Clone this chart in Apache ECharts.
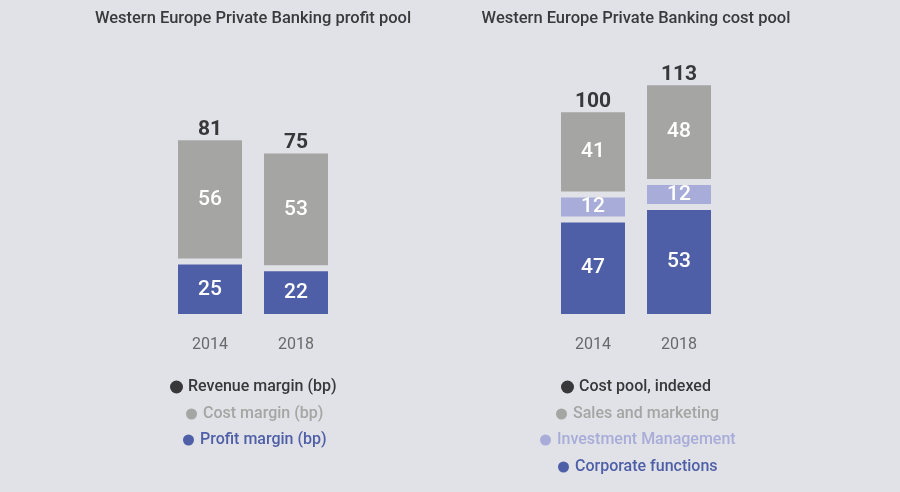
<!DOCTYPE html>
<html lang="en">

<head>
    <meta charset="UTF-8" />
    <title>Private Banking profit and cost pool</title>
    <script src="https://cdn.jsdelivr.net/npm/echarts@6/dist/echarts.min.js"></script>
    <style>
        html, body { margin: 0; padding: 0; background: #e1e2e7; }
        #main { width: 900px; height: 492px; }
    </style>
</head>

<body>
    <div id="main"></div>

    <script type="text/javascript">
        // Data
        const years = ["2014", "2018"];

        // profit pool (bp)
        const revenueMargin = [81, 75];
        const costMargin = [56, 53];
        const profitMargin = [25, 22];

        // cost pool (indexed, 2014 = 100)
        const costPoolIndexed = [100, 113];
        const salesMarketing = [41, 48];
        const investmentMgmt = [12, 12];
        const corporateFunctions = [47, 53];

        const bg = "#e1e2e7";
        const dark = "#38383a";
        const gray = "#a5a5a4";
        const blue = "#4f5fa7";
        const lilac = "#a8acd8";
        const font = "Roboto";

        // measure legend text so each row can be centred on a given x
        const ctx = document.createElement("canvas").getContext("2d");
        ctx.font = "500 16px " + font;
        function legendAt(name, color, cx, cy) {
            let w = 13 + 5 + ctx.measureText(name).width;
            return {
                data: [{ name: name, textStyle: { color: color } }],
                left: Math.round(cx - w / 2),
                top: cy - 7,
                padding: 0,
                icon: "circle",
                itemWidth: 13,
                itemHeight: 13,
                selectedMode: false,
                textStyle: { fontFamily: font, fontSize: 16, fontWeight: 500, color: color },
            };
        }

        function segment(name, data, color, gridIdx) {
            return {
                name: name,
                type: "bar",
                stack: "s" + gridIdx,
                xAxisIndex: gridIdx,
                yAxisIndex: gridIdx,
                barWidth: 70,
                data: data,
                // background-coloured border gives the gaps between segments
                itemStyle: { color: color, borderColor: bg, borderWidth: 3 },
                label: {
                    show: true,
                    position: "inside",
                    color: "#ffffff",
                    fontFamily: font,
                    fontSize: 21,
                    fontWeight: 500,
                },
                emphasis: { disabled: true },
            };
        }

        function total(name, data, gridIdx) {
            return {
                name: name,
                type: "scatter",
                xAxisIndex: gridIdx,
                yAxisIndex: gridIdx,
                symbolSize: 0,
                data: data,
                itemStyle: { color: dark, opacity: 1 },
                label: {
                    show: true,
                    position: "top",
                    distance: -3,
                    color: dark,
                    fontFamily: font,
                    fontSize: 21,
                    fontWeight: "bold",
                },
                emphasis: { disabled: true },
                z: 5,
            };
        }

        const xAxisBase = {
            type: "category",
            data: years,
            axisLine: { show: false },
            axisTick: { show: false },
            axisLabel: { color: "#69696b", fontFamily: font, fontSize: 16, margin: 20 },
        };
        const yAxisBase = { type: "value", min: 0, show: false, splitLine: { show: false } };

        const titleStyle = { fontFamily: font, fontSize: 16.5, fontWeight: 500, color: "#3a3a3c" };

        let options = {
            backgroundColor: bg,
            animation: false,
            title: [
                {
                    text: "Western Europe Private Banking profit pool",
                    left: 253, top: 10, padding: 0, textAlign: "center",
                    textStyle: titleStyle,
                },
                {
                    text: "Western Europe Private Banking cost pool",
                    left: 636, top: 10, padding: 0, textAlign: "center",
                    textStyle: titleStyle,
                },
            ],
            legend: [
                legendAt("Revenue margin (bp)", dark, 253, 386),
                legendAt("Cost margin (bp)", gray, 253, 413),
                legendAt("Profit margin (bp)", blue, 253, 439),
                legendAt("Cost pool, indexed", dark, 636, 386),
                legendAt("Sales and marketing", gray, 636, 413),
                legendAt("Investment Management", lilac, 636, 439),
                legendAt("Corporate functions", blue, 636, 466),
            ],
            grid: [
                { left: 167, width: 172, top: 95, height: 222 },
                { left: 550, width: 172, top: 47, height: 270 },
            ],
            xAxis: [
                Object.assign({ gridIndex: 0 }, xAxisBase),
                Object.assign({ gridIndex: 1 }, xAxisBase),
            ],
            yAxis: [
                Object.assign({ gridIndex: 0, max: 100 }, yAxisBase),
                Object.assign({ gridIndex: 1, max: 130 }, yAxisBase),
            ],
            series: [
                segment("Profit margin (bp)", profitMargin, blue, 0),
                segment("Cost margin (bp)", costMargin, gray, 0),
                total("Revenue margin (bp)", revenueMargin, 0),
                segment("Corporate functions", corporateFunctions, blue, 1),
                segment("Investment Management", investmentMgmt, lilac, 1),
                segment("Sales and marketing", salesMarketing, gray, 1),
                total("Cost pool, indexed", costPoolIndexed, 1),
            ],
        };

        let myChart = echarts.init(document.getElementById("main"));
        myChart.setOption(options);
    </script>
</body>

</html>
